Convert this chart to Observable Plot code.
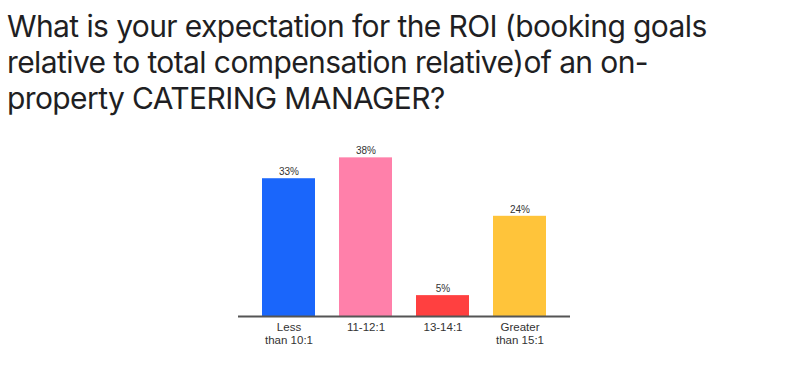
<!DOCTYPE html>
<html><head><meta charset="utf-8">
<script src="https://cdn.jsdelivr.net/npm/d3@7"></script>
<script src="https://cdn.jsdelivr.net/npm/@observablehq/plot@0.6"></script>
<style>
body{margin:0;background:#fff;width:800px;height:373px;overflow:hidden;position:relative;}
#title{position:absolute;left:7px;top:8px;font-family:Inter,sans-serif;font-size:30px;line-height:36px;color:#1f1f23;letter-spacing:-0.6px;width:795px;}
#chart{position:absolute;left:0;top:130px;}
</style></head><body>
<div id="title">What is your expectation for the ROI (booking goals<br>relative to total compensation relative)of an on-<br>property CATERING MANAGER?</div>
<div id="chart"></div>
<script>
const categories = ["Less\nthan 10:1", "11-12:1", "13-14:1", "Greater\nthan 15:1"];
const values = [33, 38, 5, 24];
const colors = ["#1a66fb", "#ff80aa", "#ff4040", "#ffc43a"];
const labels = ["33%", "38%", "5%", "24%"];

const data = categories.map((c, i) => ({cat: c, v: values[i], color: colors[i], label: labels[i]}));

const chart = Plot.plot({
  width: 800, height: 243,
  marginLeft: 238, marginRight: 230, marginTop: 19, marginBottom: 57,
  x: {domain: categories, padding: 0.31, paddingOuter: 0.31, label: null, tickSize: 0},
  y: {domain: [0, 40], axis: null},
  style: {fontFamily: "'Liberation Sans', Arial, sans-serif", color: "#333", background: "#fff"},
  marks: [
    Plot.barY(data, {x: "cat", y: "v", fill: "color"}),
    Plot.text(data, {x: "cat", y: "v", text: "label", dy: -7, fontSize: 10, fill: "#333"}),
    Plot.ruleY([0], {stroke: "#555", strokeWidth: 2}),
    Plot.axisX({tickSize: 0, tickPadding: 6, fontSize: 11.5, fill: "#333", lineHeight: 1.1})
  ]
});
document.getElementById("chart").appendChild(chart);
</script>
</body></html>
